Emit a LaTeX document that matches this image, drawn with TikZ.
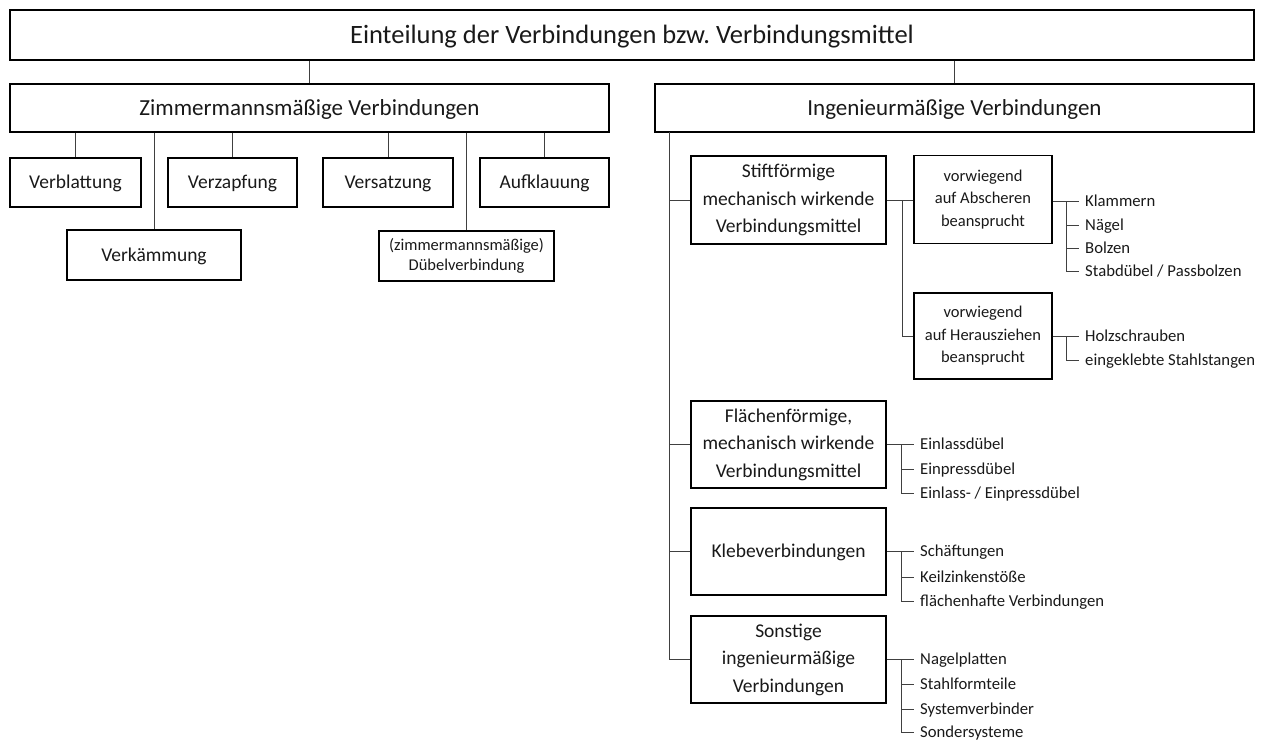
\documentclass[tikz,border=0pt]{standalone}
\usepackage{fontspec}
\setmainfont{Carlito}
\usetikzlibrary{calc}
\begin{document}
\begin{tikzpicture}[x=1pt,y=-1pt,
  box/.style={draw=black,line width=1.3pt,rectangle,inner sep=0pt,align=center,text=black!90},
  conn/.style={draw=black!75,line width=0.9pt},
  item/.style={anchor=west,inner xsep=6pt,inner ysep=0pt,font=\fontsize{16.7}{19}\selectfont,text=black!90,text height=10.7pt,text depth=0pt},
  big/.style={font=\fontsize{26.5}{30}\selectfont,text height=17.1pt,text depth=0pt},
  head/.style={font=\fontsize{23}{26}\selectfont,text height=14.8pt,text depth=0pt},
  mid/.style={font=\fontsize{19.5}{27.5}\selectfont},
  midone/.style={mid,text height=12.6pt,text depth=0pt},
  small/.style={font=\fontsize{16.5}{22.5}\selectfont},
  tiny/.style={font=\fontsize{16.5}{19.5}\selectfont}]
\useasboundingbox (0,0) rectangle (1268,740);
% top
\node[box,big,minimum width=1244pt,minimum height=50pt] (title) at (632,35) {Einteilung der Verbindungen bzw.\ Verbindungsmittel};
\node[box,head,minimum width=599pt,minimum height=48pt] (zimm) at (309.5,108) {Zimmermannsmäßige Verbindungen};
\node[box,head,minimum width=599pt,minimum height=48pt] (ing) at (954.5,108) {Ingenieurmäßige Verbindungen};
\draw[conn] (title.south -| zimm.north) -- (zimm.north);
\draw[conn] (title.south -| ing.north) -- (ing.north);
% left children
\node[box,midone,minimum width=131pt,minimum height=49pt] (verbl) at (75.5,182.5) {Verblattung};
\node[box,midone,minimum width=129pt,minimum height=49pt] (verz) at (232.5,182.5) {Verzapfung};
\node[box,midone,minimum width=130pt,minimum height=49pt] (vers) at (388,182.5) {Versatzung};
\node[box,midone,minimum width=129pt,minimum height=49pt] (aufk) at (544.5,182.5) {Aufklauung};
\node[box,midone,minimum width=174pt,minimum height=50pt] (verk) at (154,255) {Verkämmung};
\node[box,tiny,minimum width=175pt,minimum height=50pt] (dueb) at (466.5,256) {(zimmermannsmäßige)\\Dübelverbindung};
\foreach \n in {verbl,verz,vers,aufk,verk,dueb}
  \draw[conn] (zimm.south -| \n.north) -- (\n.north);
% right side
\coordinate (trunk) at (669,132);
\node[box,mid,minimum width=195pt,minimum height=88pt] (stift) at (788.5,200) {Stiftförmige\\mechanisch wirkende\\Verbindungsmittel};
\node[box,small,minimum width=138pt,minimum height=88pt] (absch) at (983,199.5) {vorwiegend\\auf Abscheren\\beansprucht};
\node[box,small,minimum width=138pt,minimum height=86pt] (herz) at (983,336) {vorwiegend\\auf Herausziehen\\beansprucht};
\node[box,mid,minimum width=195pt,minimum height=87pt] (flae) at (788.5,444.5) {Flächenförmige,\\mechanisch wirkende\\Verbindungsmittel};
\node[box,midone,minimum width=195pt,minimum height=87pt] (kleb) at (788.5,551.5) {Klebeverbindungen};
\node[box,mid,minimum width=195pt,minimum height=87pt] (sons) at (788.5,659.5) {Sonstige\\ingenieurmäßige\\Verbindungen};
\draw[conn] (trunk) |- (sons.west);
\foreach \n in {stift,flae,kleb}
  \draw[conn] (trunk |- \n.west) -- (\n.west);
\draw[conn] (stift.east) -- (absch.west |- stift.east);
\draw[conn] ($(stift.east)+(16,0)$) |- (herz.west);
% items
\node[item] (a1) at (1079,201) {Klammern};
\node[item] (a2) at (1079,225) {Nägel};
\node[item] (a3) at (1079,248) {Bolzen};
\node[item] (a4) at (1079,271) {Stabdübel / Passbolzen};
\draw[conn] (absch.east |- a1.west) -- (a1.west);
\draw[conn] ($(absch.east |- a1.west)+(14,0)$) |- (a4.west);
\foreach \i in {a2,a3} \draw[conn] ($(absch.east |- \i.west)+(14,0)$) -- (\i.west);
\node[item] (h1) at (1079,336) {Holzschrauben};
\node[item] (h2) at (1079,360) {eingeklebte Stahlstangen};
\draw[conn] (herz.east) -- (h1.west);
\draw[conn] ($(herz.east)+(14,0)$) |- (h2.west);
\node[item] (f1) at (914,444.5) {Einlassdübel};
\node[item] (f2) at (914,469) {Einpressdübel};
\node[item] (f3) at (914,493) {Einlass- / Einpressdübel};
\draw[conn] (flae.east) -- (f1.west);
\draw[conn] ($(flae.east)+(15,0)$) |- (f3.west);
\draw[conn] ($(flae.east |- f2.west)+(15,0)$) -- (f2.west);
\node[item] (k1) at (914,551.5) {Schäftungen};
\node[item] (k2) at (914,577) {Keilzinkenstöße};
\node[item] (k3) at (914,601) {flächenhafte Verbindungen};
\draw[conn] (kleb.east) -- (k1.west);
\draw[conn] ($(kleb.east)+(15,0)$) |- (k3.west);
\draw[conn] ($(kleb.east |- k2.west)+(15,0)$) -- (k2.west);
\node[item] (s1) at (914,659.5) {Nagelplatten};
\node[item] (s2) at (914,684) {Stahlformteile};
\node[item] (s3) at (914,709) {Systemverbinder};
\node[item] (s4) at (914,732) {Sondersysteme};
\draw[conn] (sons.east) -- (s1.west);
\draw[conn] ($(sons.east)+(15,0)$) |- (s4.west);
\foreach \i in {s2,s3} \draw[conn] ($(sons.east |- \i.west)+(15,0)$) -- (\i.west);
\end{tikzpicture}
\end{document}
